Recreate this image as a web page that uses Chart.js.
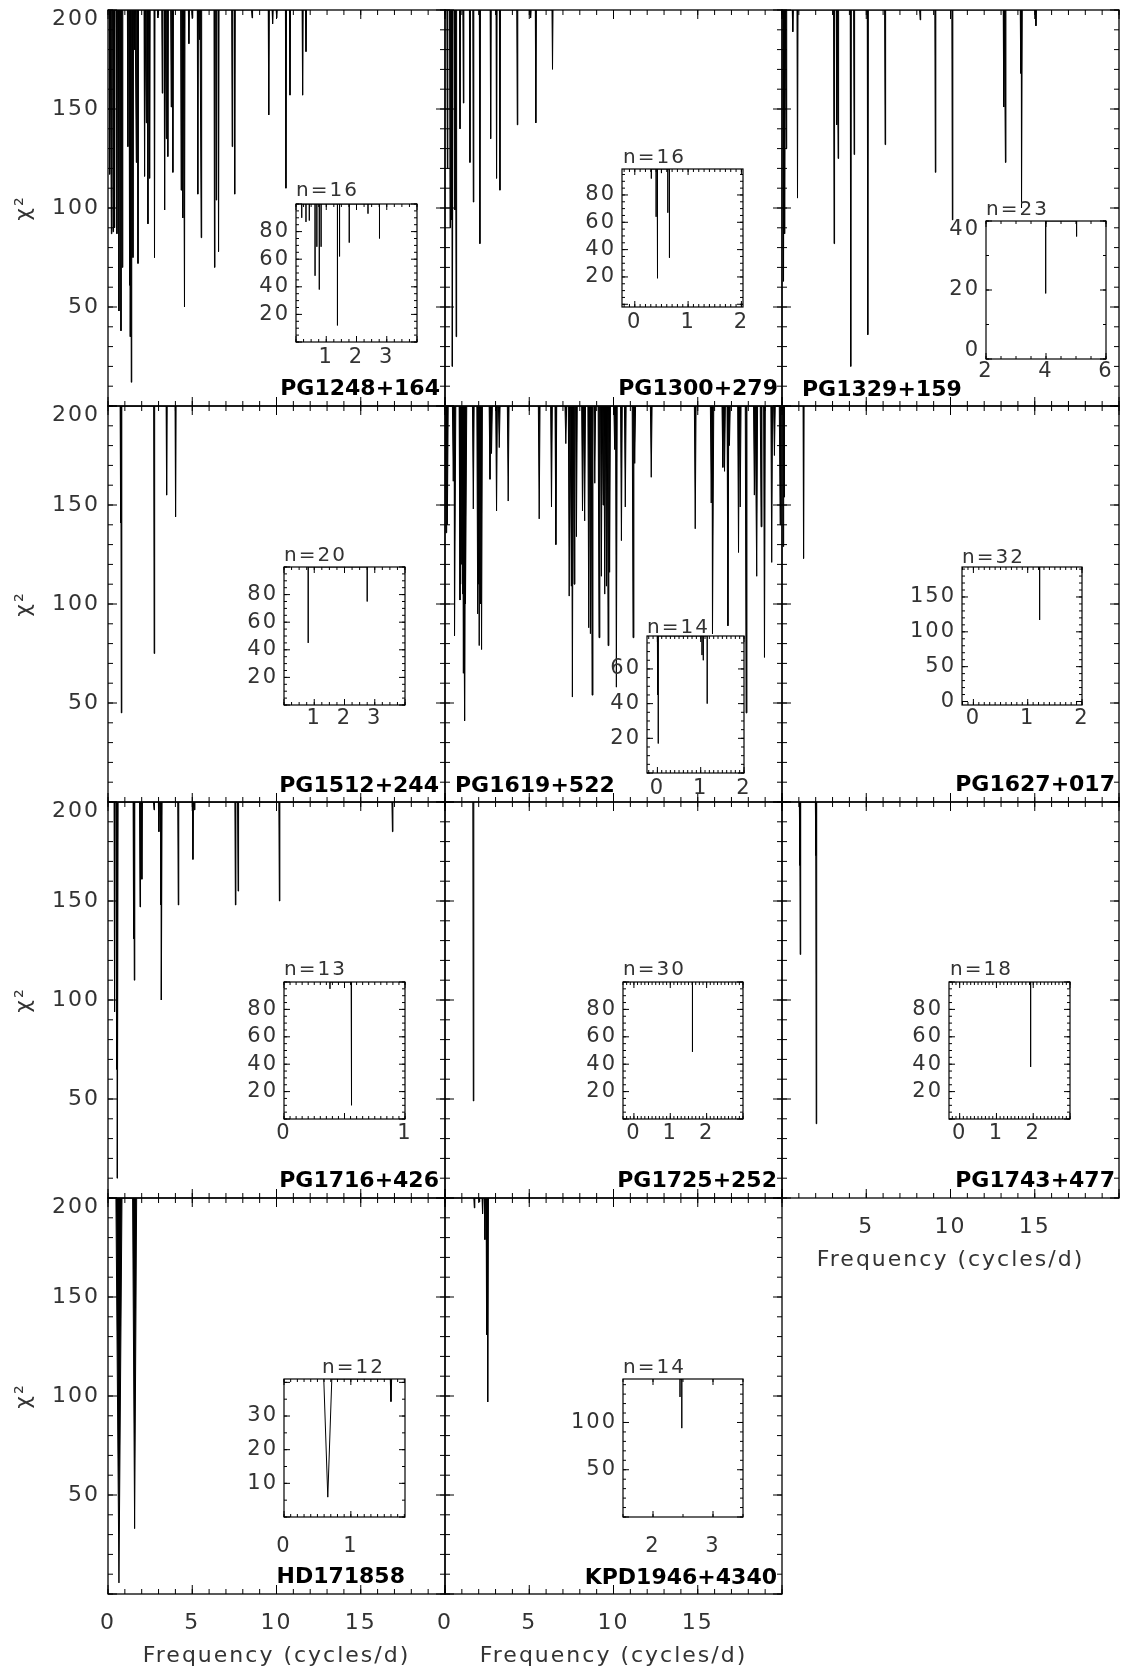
<!DOCTYPE html>
<html>
<head>
<meta charset="utf-8">
<script src="https://cdn.jsdelivr.net/npm/chart.js@4.4.1/dist/chart.umd.min.js"></script>
<style>
  html, body { margin: 0; padding: 0; background: #fff; }
  #page { position: relative; width: 1121px; height: 1671px; overflow: hidden; background: #fff; }
  canvas { position: absolute; }
  .name { position: absolute; font: bold 22px "DejaVu Sans"; line-height: 22px; color: #000; white-space: nowrap; }
  .nlab { position: absolute; font: 20px "DejaVu Sans"; line-height: 20px; color: #333; letter-spacing: 2px; white-space: nowrap; }
</style>
</head>
<body>
<div id="page"></div>
<script>
// chi^2 minima: frequency (cycles/d) and chi^2 at the bottom of each dip
const pg1248F = [0.10, 0.20, 0.30, 0.39, 0.53, 0.65, 0.77, 0.85, 1.18, 1.28, 1.34, 1.38, 1.48, 1.58, 1.68, 1.78, 2.17, 2.27, 2.37, 2.47, 2.76, 2.96, 3.22, 3.36, 3.46, 3.55, 3.75, 3.85, 4.34, 4.44, 4.54, 4.80, 5.00, 5.33, 5.43, 5.53, 6.32, 6.42, 6.56, 7.37, 7.52, 8.55, 9.54, 9.77, 10.01, 10.56, 10.80, 11.55, 11.75];
const pg1248C = [117, 87, 88, 90, 87, 48, 38, 70, 131, 61, 35, 12, 75, 180, 123, 72, 116, 143, 92, 115, 75, 196, 158, 99, 135, 126, 151, 118, 109, 95, 50, 183, 196, 107, 185, 85, 70, 104, 78, 131, 107, 196, 147, 193, 196, 110, 157, 157, 179];
const pg1248InF = [0.19, 0.33, 0.44, 0.63, 0.69, 0.77, 0.83, 1.37, 1.44, 1.76, 2.38, 2.76];
const pg1248InC = [90, 87, 88, 48, 69, 38, 69, 12, 62, 72, 93, 75];

const pg1300F = [0.14, 0.30, 0.39, 0.45, 0.59, 0.66, 0.89, 1.09, 1.48, 1.68, 2.07, 2.71, 3.06, 3.26, 4.29, 5.08, 5.39, 6.38];
const pg1300C = [120, 90, 94, 20, 99, 35, 140, 153, 123, 103, 82, 135, 115, 109, 142, 196, 143, 170];
const pg1300InF = [0.31, 0.40, 0.42, 0.43, 0.50, 0.62, 0.65];
const pg1300InC = [92, 64, 45, 19, 96, 67, 34];

const pg1329F = [0.09, 0.17, 0.25, 0.64, 0.92, 3.09, 3.25, 3.33, 4.08, 4.28, 5.09, 6.12, 8.20, 9.10, 10.11, 13.16, 13.26, 14.17, 14.23, 15.07];
const pg1329C = [63, 87, 130, 189, 105, 82, 142, 125, 20, 127, 36, 132, 195, 118, 94, 151, 123, 168, 100, 192];
const pg1329InF = [3.99, 5.02];
const pg1329InC = [19, 35.5];

const pg1512F = [0.75, 0.79, 2.74, 3.48, 4.01];
const pg1512C = [141, 45, 75, 155, 144];
const pg1512InF = [0.80, 2.75];
const pg1512InC = [45, 75];

const pg1619F = [0.06, 0.14, 0.49, 0.59, 0.89, 0.93, 0.99, 1.05, 1.09, 1.13, 1.18, 1.24, 1.68, 1.94, 1.99, 2.03, 2.11, 2.17, 2.67, 2.76, 3.06, 3.22, 3.75, 5.59, 6.32, 6.58, 7.17, 7.37, 7.50, 7.56, 7.66, 7.80, 8.16, 8.29, 8.53, 8.63, 8.73, 8.89, 9.14, 9.28, 9.38, 9.48, 9.58, 9.68, 9.77, 10.07, 10.17, 10.47, 10.70, 11.16, 11.26, 12.24, 14.85, 15.80, 15.90, 16.49, 16.59, 16.79, 16.88, 17.42, 17.52, 17.87, 18.36, 18.50, 18.76, 18.96, 19.39, 19.55, 19.89];
const pg1619C = [136, 140, 162, 84, 102, 110, 120, 105, 65, 95, 41, 100, 148, 95, 110, 79, 100, 77, 163, 176, 147, 179, 152, 143, 149, 130, 181, 104, 109, 53, 110, 134, 147, 142, 88, 85, 54, 161, 83, 114, 150, 105, 109, 79, 116, 178, 58, 132, 149, 83, 171, 164, 138, 151, 85, 169, 167, 89, 180, 126, 149, 45, 155, 114, 139, 73, 121, 175, 140];
const pg1619InF = [0.00, 0.01, 0.02, 1.03, 1.06, 1.15];
const pg1619InC = [57, 45, 17, 68, 65, 40];

const pg1627F = [0.08, 0.12, 1.28];
const pg1627C = [129, 154, 123];
const pg1627InF = [1.22];
const pg1627InC = [117];

const pg1716F = [0.39, 0.51, 0.57, 1.52, 1.56, 1.90, 2.01, 2.73, 3.02, 3.14, 3.18, 4.17, 5.04, 5.13, 7.56, 7.72, 10.17, 16.88];
const pg1716C = [94, 65, 10, 131, 110, 147, 161, 196, 185, 148, 100, 148, 171, 196, 148, 155, 150, 185];
const pg1716InF = [0.38, 0.555, 0.56];
const pg1716InC = [95, 70, 10];

const pg1725F = [1.68];
const pg1725C = [49];
const pg1725InF = [1.61];
const pg1725InC = [49];

const pg1743F = [1.06, 1.08, 2.01, 2.03];
const pg1743C = [168, 123, 173, 37.5];
const pg1743InF = [1.93];
const pg1743InC = [38];

const hd171858F = [0.65, 1.58];
const hd171858C = [5.6, 33];
const hd171858W = [0.18, 0.12];
const hd171858InF = [0.655, 1.60];
const hd171858InC = [5.9, 34.3];
const hd171858InW = [0.06, 0.01];

const kpd1946F = [1.74, 2.03, 2.23, 2.37, 2.47, 2.55];
const kpd1946C = [195, 198, 192, 179, 131, 97];
const kpd1946InF = [2.45, 2.48];
const kpd1946InC = [127, 94];

// tick labels
const mainYTicks = [50, 100, 150, 200];
const mainXTicks = [0, 5, 10, 15];
const mainXTicksRight = [5, 10, 15];

const FONT = 'DejaVu Sans';
const GREY = '#333';
Chart.defaults.font.family = FONT;

const colX = [108, 445, 782];
const rowY = [10, 406, 802, 1198];
const PW = 337, PH = 396;

const panels = [
  { name: 'PG1248+164', row: 0, col: 0, f: pg1248F, c: pg1248C, nameAt: ['r', 440, 396],
    inset: { f: pg1248InF, c: pg1248InC, box: [296, 204, 121, 138], x: [0, 4], xt: [1, 2, 3], xs: [1, 0.25], xPad: 3,
             y: [0, 100], yt: [20, 40, 60, 80], ys: [20, 5], n: 'n=16', nAt: [296, 196] } },
  { name: 'PG1300+279', row: 0, col: 1, f: pg1300F, c: pg1300C, nameAt: ['r', 778, 396],
    inset: { f: pg1300InF, c: pg1300InC, box: [622, 169, 121, 138], x: [-0.24, 2.03], xt: [0, 1, 2], xs: [1, 0.1], xPad: 3,
             y: [-2, 99], yt: [20, 40, 60, 80], ys: [20, 5], n: 'n=16', nAt: [623, 163] } },
  { name: 'PG1329+159', row: 0, col: 2, f: pg1329F, c: pg1329C, nameAt: ['l', 802, 397],
    inset: { f: pg1329InF, c: pg1329InC, box: [986, 221, 120, 138], x: [2, 6], xt: [2, 4, 6], xs: [2, 0.5], xPad: 0,
             y: [0, 40], yt: [0, 20, 40], ys: [20, 10], n: 'n=23', nAt: [986, 215] } },
  { name: 'PG1512+244', row: 1, col: 0, f: pg1512F, c: pg1512C, nameAt: ['r', 439, 793],
    inset: { f: pg1512InF, c: pg1512InC, box: [284, 567, 121, 138], x: [0, 4], xt: [1, 2, 3], xs: [1, 0.25], xPad: 1,
             y: [0, 100], yt: [20, 40, 60, 80], ys: [20, 5], n: 'n=20', nAt: [284, 561] } },
  { name: 'PG1619+522', row: 1, col: 1, f: pg1619F, c: pg1619C, dw: 0.05, nameAt: ['l', 455, 793],
    inset: { f: pg1619InF, c: pg1619InC, box: [647, 636, 97, 137], x: [-0.24, 2], xt: [0, 1, 2], xs: [1, 0.1], xPad: 3,
             y: [0, 79], yt: [20, 40, 60], ys: [20, 5], n: 'n=14', nAt: [647, 633] } },
  { name: 'PG1627+017', row: 1, col: 2, f: pg1627F, c: pg1627C, nameAt: ['r', 1115, 792],
    inset: { f: pg1627InF, c: pg1627InC, box: [962, 567, 120, 138], x: [-0.21, 2], xt: [0, 1, 2], xs: [1, 0.1], xPad: 1,
             y: [-5, 193], yt: [0, 50, 100, 150], ys: [50, 10], n: 'n=32', nAt: [962, 563] } },
  { name: 'PG1716+426', row: 2, col: 0, f: pg1716F, c: pg1716C, nameAt: ['r', 439, 1188],
    inset: { f: pg1716InF, c: pg1716InC, box: [284, 982, 121, 137], x: [0, 1], xt: [0, 1], xs: [0.5, 0.05], xPad: 2,
             y: [0, 100], yt: [20, 40, 60, 80], ys: [20, 5], n: 'n=13', nAt: [284, 975] } },
  { name: 'PG1725+252', row: 2, col: 1, f: pg1725F, c: pg1725C, nameAt: ['r', 777, 1188],
    inset: { f: pg1725InF, c: pg1725InC, box: [623, 982, 120, 137], x: [-0.3, 3], xt: [0, 1, 2], xs: [1, 0.1], xPad: 2,
             y: [0, 100], yt: [20, 40, 60, 80], ys: [20, 5], n: 'n=30', nAt: [623, 975] } },
  { name: 'PG1743+477', row: 2, col: 2, f: pg1743F, c: pg1743C, nameAt: ['r', 1115, 1188], xt: mainXTicksRight,
    inset: { f: pg1743InF, c: pg1743InC, box: [949, 982, 121, 137], x: [-0.29, 3], xt: [0, 1, 2], xs: [1, 0.1], xPad: 2,
             y: [0, 100], yt: [20, 40, 60, 80], ys: [20, 5], n: 'n=18', nAt: [950, 975] } },
  { name: 'HD171858', row: 3, col: 0, f: hd171858F, c: hd171858C, w: hd171858W, nameAt: ['r', 405, 1584], xt: mainXTicks,
    inset: { f: hd171858InF, c: hd171858InC, w: hd171858InW, open: true, box: [284, 1379, 121, 138], x: [0, 1.81], xt: [0, 1], xs: [1, 0.1], xPad: 17,
             y: [0, 41], yt: [10, 20, 30], ys: [10, 5], n: 'n=12', nAt: [322, 1373] } },
  { name: 'KPD1946+4340', row: 3, col: 1, f: kpd1946F, c: kpd1946C, nameAt: ['r', 777, 1585], xt: mainXTicks,
    inset: { f: kpd1946InF, c: kpd1946InC, box: [623, 1379, 120, 138], x: [1.5, 3.5], xt: [2, 3], xs: [1, 0.5], xPad: 17,
             y: [0, 146], yt: [50, 100], ys: [50, 10], n: 'n=14', nAt: [623, 1373] } }
];

const page = document.getElementById('page');

function addCanvas(left, top, w, h) {
  const cv = document.createElement('canvas');
  cv.width = w; cv.height = h;
  cv.style.left = left + 'px'; cv.style.top = top + 'px';
  cv.style.width = w + 'px'; cv.style.height = h + 'px';
  page.appendChild(cv);
  return cv;
}

function addText(cls, txt, left, top, alignRight) {
  const d = document.createElement('div');
  d.className = cls;
  d.textContent = txt;
  if (alignRight) {
    d.style.left = (left - 300) + 'px';
    d.style.width = '300px';
    d.style.textAlign = 'right';
  } else {
    d.style.left = left + 'px';
  }
  d.style.top = top + 'px';
  page.appendChild(d);
}

// each dip goes from the top of the axis down to its minimum and back up
function dips(f, c, w, top, dw) {
  const pts = [];
  for (let i = 0; i < f.length; i++) {
    const hw = w ? w[i] : dw;
    pts.push({ x: f[i] - hw, y: top }, { x: f[i], y: c[i] }, { x: f[i] + hw, y: top });
  }
  return pts;
}

// frame with inward ticks on all four sides (IDL style)
const frame = {
  id: 'frame',
  beforeDraw(chart, args, o) {
    // wide letter spacing like the plotting font of the original
    if ('letterSpacing' in chart.ctx) chart.ctx.letterSpacing = o.ls;
  },
  beforeDatasetsDraw(chart, args, o) {
    if (!o.white) return;
    const a = chart.chartArea;
    chart.ctx.save();
    chart.ctx.fillStyle = '#fff';
    chart.ctx.fillRect(a.left, a.top, a.width, a.height);
    chart.ctx.restore();
  },
  afterDatasetsDraw(chart, args, o) {
    const { ctx, chartArea: a, scales } = chart;
    ctx.save();
    ctx.strokeStyle = '#000';
    ctx.lineWidth = 1;
    const mark = (sc, step, len, horiz) => {
      const i0 = Math.ceil(sc.min / step - 1e-6), i1 = Math.floor(sc.max / step + 1e-6);
      ctx.beginPath();
      for (let i = i0; i <= i1; i++) {
        const p = sc.getPixelForValue(i * step);
        if (horiz) {
          ctx.moveTo(p, a.bottom); ctx.lineTo(p, a.bottom - len);
          ctx.moveTo(p, a.top); ctx.lineTo(p, a.top + len);
        } else {
          ctx.moveTo(a.left, p); ctx.lineTo(a.left + len, p);
          ctx.moveTo(a.right, p); ctx.lineTo(a.right - len, p);
        }
      }
      ctx.stroke();
    };
    mark(scales.x, o.xs[1], o.minor, true);
    mark(scales.x, o.xs[0], o.major, true);
    mark(scales.y, o.ys[1], o.minor, false);
    mark(scales.y, o.ys[0], o.major, false);
    ctx.lineWidth = o.lw;
    ctx.strokeRect(a.left, a.top, a.width, a.height);
    ctx.restore();
  }
};

// labels at the very ends of a y axis are nudged inside the box
function yLabel(v) {
  const s = String(v);
  if (v >= this.max - 1e-6) return ['', s];
  if (v <= this.min + 1e-6) return [s, ''];
  return s;
}

function makeChart(cv, pts, fill, sx, sy, pad, o) {
  return new Chart(cv, {
    type: 'line',
    data: { datasets: [{ data: pts, borderColor: '#000', backgroundColor: '#000', borderWidth: 1,
      pointRadius: 0, fill: fill ? 'end' : false, tension: 0 }] },
    options: {
      animation: false, responsive: false, events: [],
      layout: { padding: pad },
      plugins: { legend: { display: false }, tooltip: { enabled: false }, frame: o },
      scales: { x: sx, y: sy }
    },
    plugins: [frame]
  });
}

function axis(min, max, ticks, show, size, fitKey, fitVal, extra) {
  return Object.assign({
    type: 'linear', min: min, max: max,
    grid: { display: false, drawTicks: false },
    border: { display: false },
    afterBuildTicks: sc => { sc.ticks = ticks.map(v => ({ value: v })); },
    afterFit: sc => { sc[fitKey] = fitVal; sc.paddingLeft = sc.paddingRight = sc.paddingTop = sc.paddingBottom = 0; },
    ticks: { display: show, autoSkip: false, maxRotation: 0, color: GREY, font: { family: FONT, size: size } }
  }, extra || {});
}

panels.forEach(p => {
  const left = colX[p.col], top = rowY[p.row];
  const cv = addCanvas(left - 100, top - 12, PW + 112, PH + 87);
  const sx = axis(0, 20, p.xt || mainXTicks, !!p.xt, 22, 'height', 75, {
    title: { display: !!p.xt, text: 'Frequency (cycles/d)', color: GREY, font: { family: FONT, size: 22 }, padding: { top: 0, bottom: 0 } }
  });
  sx.ticks.padding = 16;
  const sy = axis(0, 200, mainYTicks, p.col === 0, 22, 'width', 100, {
    title: { display: p.col === 0, text: 'χ²', color: GREY, font: { family: FONT, size: 22 }, padding: { top: 3, bottom: 0 } }
  });
  sy.ticks.padding = 8;
  sy.ticks.font.lineHeight = 0.8;
  sy.ticks.callback = yLabel;
  makeChart(cv, dips(p.f, p.c, p.w, 200, p.dw || 0.03), true, sx, sy,
    { left: 0, top: 12, right: 12, bottom: 0 },
    { xs: [5, 1], ys: [50, 10], major: 9, minor: 5, lw: 1.3, ls: '2px' });

  const s = p.inset;
  const [bx, by, bw, bh] = s.box;
  const icv = addCanvas(bx - 70, by - 10, bw + 90, bh + 60);
  const ix = axis(s.x[0], s.x[1], s.xt, true, 21, 'height', 50);
  ix.ticks.padding = s.xPad;
  const iy = axis(s.y[0], s.y[1], s.yt, true, 21, 'width', 70);
  iy.ticks.padding = 6;
  iy.ticks.font.lineHeight = 0.8;
  iy.ticks.callback = yLabel;
  makeChart(icv, dips(s.f, s.c, s.w, s.y[1], 0), !s.open, ix, iy,
    { left: 0, top: 10, right: 20, bottom: 0 },
    { xs: s.xs, ys: s.ys, major: 6, minor: 3, lw: 1.2, white: true, ls: '2px' });

  addText('nlab', s.n, s.nAt[0], s.nAt[1] - 17, false);
  addText('name', p.name, p.nameAt[1], p.nameAt[2] - 18.6, p.nameAt[0] === 'r');
});
</script>
</body>
</html>
